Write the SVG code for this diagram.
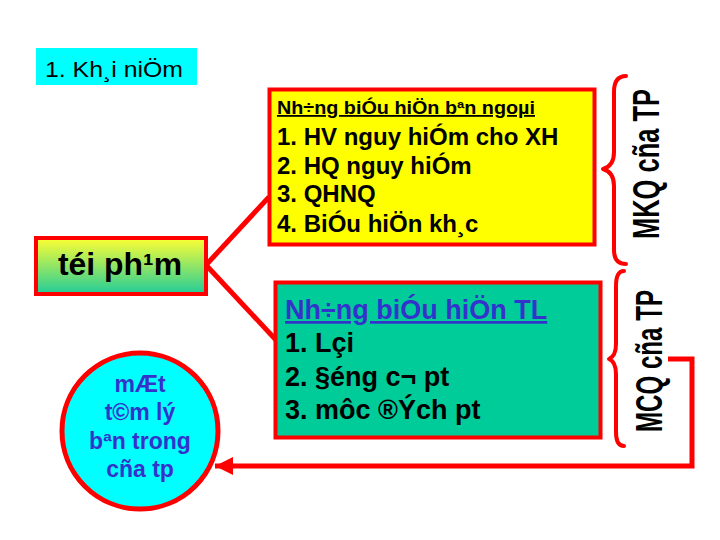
<svg xmlns="http://www.w3.org/2000/svg" width="720" height="540" viewBox="0 0 720 540">
<defs>
<linearGradient id="gr" x1="0" y1="0" x2="0" y2="1">
<stop offset="0" stop-color="#FFFF33"/>
<stop offset="1" stop-color="#22CC99"/>
</linearGradient>
<marker id="ah" markerWidth="20" markerHeight="20" refX="18" refY="9" orient="auto" markerUnits="userSpaceOnUse">
<path d="M0,0 L18,9 L0,18 Z" fill="#FF0000"/>
</marker>
</defs>
<style>
text{font-family:"Liberation Sans",Arial,sans-serif}
.b{font-weight:bold}
.line{stroke:#FF0000;stroke-width:5;fill:none}
.brace{stroke:#FF0000;stroke-width:4;fill:none;stroke-linecap:round;stroke-linejoin:round}
.blue{fill:#3333CC}
.rot{font-family:"Liberation Sans Narrow","Arial Narrow","Liberation Sans",sans-serif;font-weight:bold;font-size:36px}
</style>
<rect width="720" height="540" fill="#FFFFFF"/>
<g id="connectors">
<line class="line" x1="206" y1="265" x2="269" y2="197"/>
<line class="line" x1="206" y1="265" x2="276" y2="340"/>
<polyline class="line" points="668,359 692,359 692,466 215,466" marker-end="url(#ah)"/>
</g>
<g id="title">
<rect x="36" y="48" width="161" height="37" fill="#00FFFF"/>
<text x="45" y="77" font-size="22" textLength="138" lengthAdjust="spacingAndGlyphs">1. Kh¸i niÖm</text>
</g>
<g id="external">
<rect x="269.5" y="89.5" width="325" height="155" fill="#FFFF00" stroke="#FF0000" stroke-width="4"/>
<text x="277" y="114" font-size="18" class="b" text-decoration="underline" textLength="258" lengthAdjust="spacingAndGlyphs">Nh÷ng biÓu hiÖn bªn ngoµi</text>
<text x="277" y="145" font-size="24" class="b">1. HV nguy hiÓm cho XH</text>
<text x="277" y="174" font-size="24" class="b">2. HQ nguy hiÓm</text>
<text x="277" y="202" font-size="24" class="b">3. QHNQ</text>
<text x="277" y="232" font-size="24" class="b">4. BiÓu hiÖn kh¸c</text>
</g>
<g id="crime">
<rect x="36" y="238" width="170" height="56" fill="url(#gr)" stroke="#FF0000" stroke-width="4"/>
<text x="120" y="275" font-size="31" class="b" text-anchor="middle" textLength="124" lengthAdjust="spacingAndGlyphs">téi ph¹m</text>
</g>
<g id="internal">
<rect x="275.5" y="282.5" width="325" height="155" fill="#00CC99" stroke="#FF0000" stroke-width="4"/>
<text x="285" y="319" font-size="27" class="b blue" text-decoration="underline">Nh÷ng biÓu hiÖn TL</text>
<text x="285" y="352" font-size="27" class="b">1. Lçi</text>
<text x="285" y="386" font-size="27" class="b">2. §éng c¬ pt</text>
<text x="285" y="419" font-size="27" class="b">3. môc ®Ých pt</text>
</g>
<g id="psych">
<circle cx="140" cy="431" r="78" fill="#00FFFF" stroke="#FF0000" stroke-width="5"/>
<text x="140" y="392" font-size="23" class="b blue" text-anchor="middle">mÆt</text>
<text x="140" y="420" font-size="23" class="b blue" text-anchor="middle">t©m lý</text>
<text x="140" y="449" font-size="23" class="b blue" text-anchor="middle">bªn trong</text>
<text x="140" y="477" font-size="23" class="b blue" text-anchor="middle">cña tp</text>
</g>
<g id="mkq">
<path class="brace" d="M626,76 Q614,76 614,92 L614,152 Q614,166 603,169 Q614,172 614,186 L614,250 Q614,264 626,264"/>
<text class="rot" transform="translate(659,164) rotate(-90)" text-anchor="middle" textLength="150" lengthAdjust="spacingAndGlyphs">MKQ cña TP</text>
</g>
<g id="mcq">
<path class="brace" d="M624,271 Q616,271 616,286 L616,344 Q616,356 609,359 Q616,362 616,374 L616,432 Q616,446 624,446"/>
<text class="rot" transform="translate(662,361) rotate(-90)" text-anchor="middle" textLength="142" lengthAdjust="spacingAndGlyphs">MCQ cña TP</text>
</g>
</svg>
